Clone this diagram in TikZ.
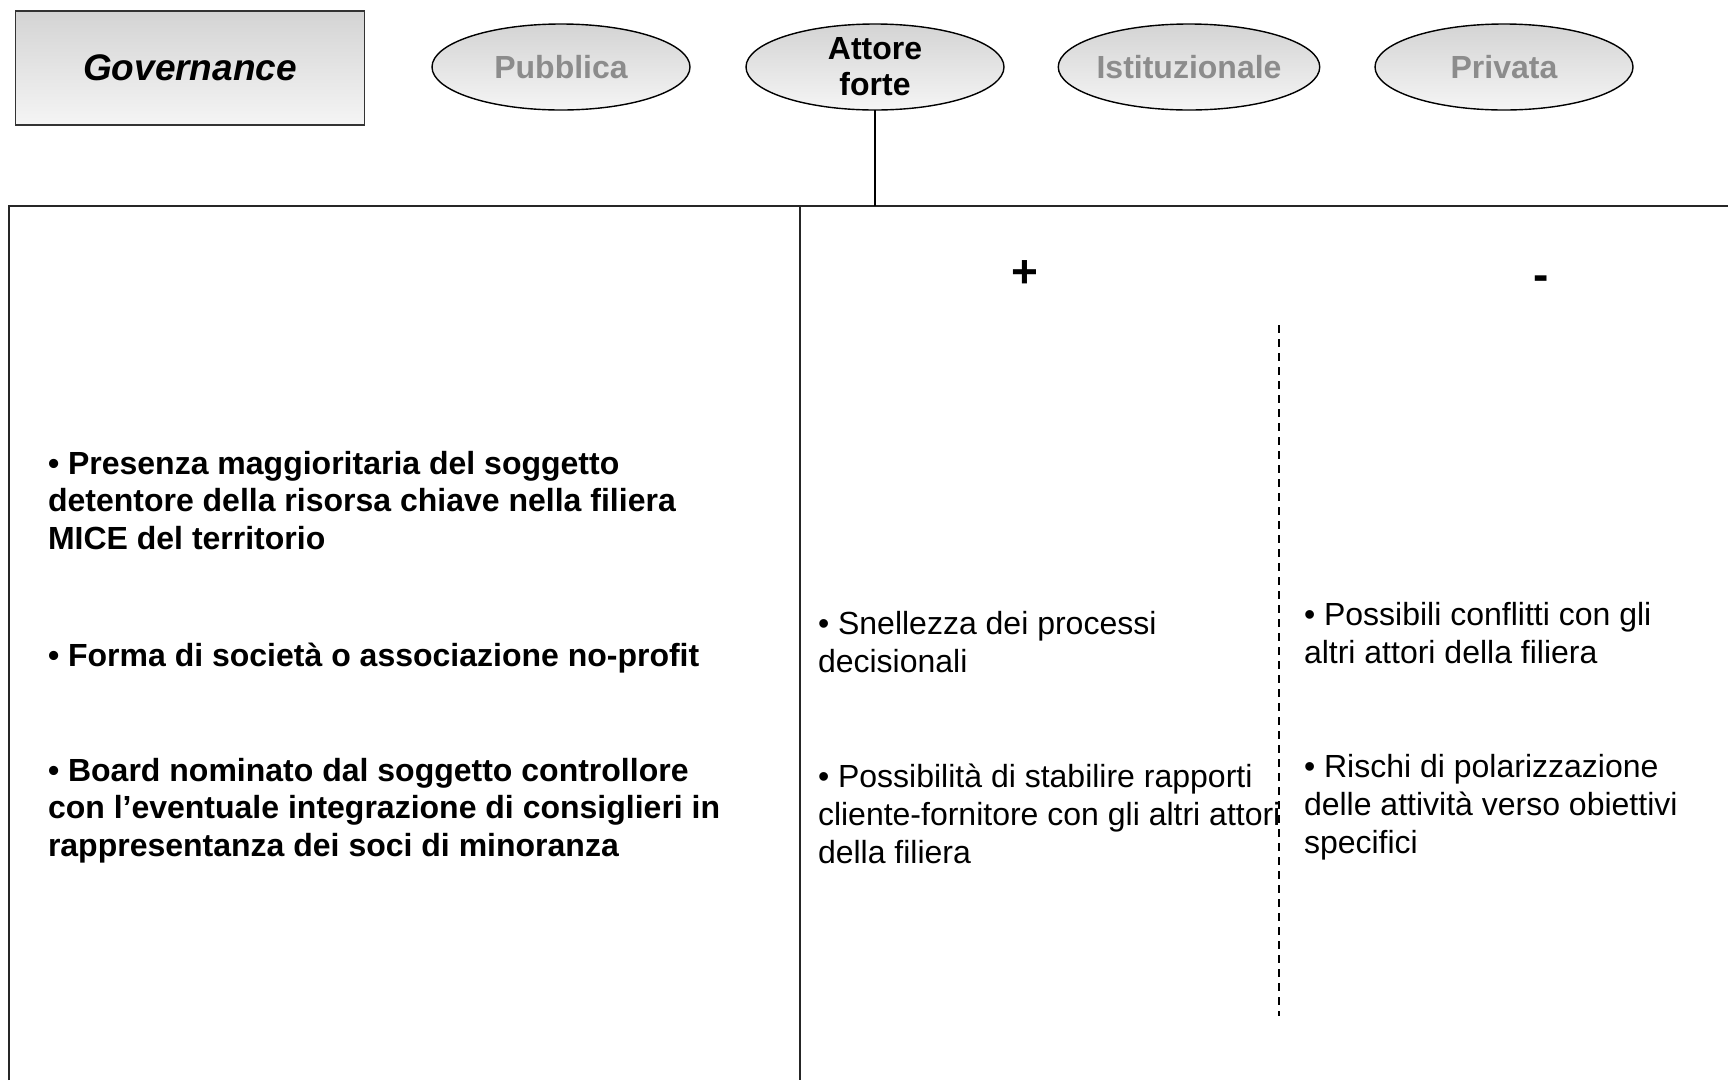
\documentclass[tikz,border=0pt]{standalone}
\usepackage{fontspec}
\setmainfont{Liberation Sans}
\usetikzlibrary{shapes.geometric}
\begin{document}
\begin{tikzpicture}[x=1pt,y=-1pt,
  every node/.style={inner sep=0pt, outer sep=0pt},
  headbox/.style={draw=black!80, line width=1.6pt, top color=black!17, bottom color=black!4,
    minimum width=349pt, minimum height=114pt,
    font=\fontsize{37}{42}\selectfont\bfseries\itshape},
  kind/.style={ellipse, draw=black, line width=1.4pt, top color=black!17, bottom color=black!4,
    minimum width=258pt, minimum height=86pt, align=center,
    font=\fontsize{32}{36}\selectfont\bfseries},
  faded/.style={text=black!45},
  frame/.style={line width=1.6pt, draw=black!85},
  sign/.style={font=\fontsize{46}{50}\selectfont\bfseries},
  strongtxt/.style={anchor=north west, align=left, font=\fontsize{32}{37.5}\selectfont\bfseries},
  plaintxt/.style={anchor=north west, align=left, font=\fontsize{32}{38}\selectfont},
  sep/.style={line width=1.2pt, dash pattern=on 8pt off 6pt}
]
\useasboundingbox (0,0) rectangle (1728,1080);

% header: title box and the four kinds of governance
\node[headbox] (gov) at (190,68) {Governance};
\node[kind, faded] (pub) at (561,67) {Pubblica};
\node[kind] (att) at (875,67) {Attore\\forte};
\node[kind, faded] (ist) at (1189,67) {Istituzionale};
\node[kind, faded] (priv) at (1504,67) {Privata};

% table frame
\coordinate (tl) at (9,206);
\coordinate (tr) at (1728,206);
\coordinate (bl) at (9,1080);
\coordinate (mt) at (800,206);
\coordinate (mb) at (800,1080);
\coordinate (link) at (875,206);
\draw[frame] (bl) -- (tl) -- (tr);
\draw[frame] (mt) -- (mb);
\draw[line width=1.4pt] (att.south) -- (link);

% pros / cons columns
\node[sign] (plus) at (1025,274) {+};
\node[sign] (minus) at (1541,283) {-};
\coordinate (dtop) at (1279,325);
\coordinate (dbot) at (1279,1016);
\draw[sep] (dtop) -- (dbot);

% features of the model
\node[strongtxt] (f1) at (48,448) {\strut• Presenza maggioritaria del soggetto\\detentore della risorsa chiave nella filiera\\MICE del territorio};
\node[strongtxt] (f2) at (48,640) {\strut• Forma di società o associazione no-profit};
\node[strongtxt] (f3) at (48,755) {\strut• Board nominato dal soggetto controllore\\con l’eventuale integrazione di consiglieri in\\rappresentanza dei soci di minoranza};

% advantages
\node[plaintxt] (p1) at (818,608) {\strut• Snellezza dei processi\\decisionali};
\node[plaintxt] (p2) at (818,761) {\strut• Possibilità di stabilire rapporti\\cliente-fornitore con gli altri attori\\della filiera};

% drawbacks
\node[plaintxt] (m1) at (1304,599) {\strut• Possibili conflitti con gli\\altri attori della filiera};
\node[plaintxt] (m2) at (1304,751) {\strut• Rischi di polarizzazione\\delle attività verso obiettivi\\specifici};
\end{tikzpicture}
\end{document}
